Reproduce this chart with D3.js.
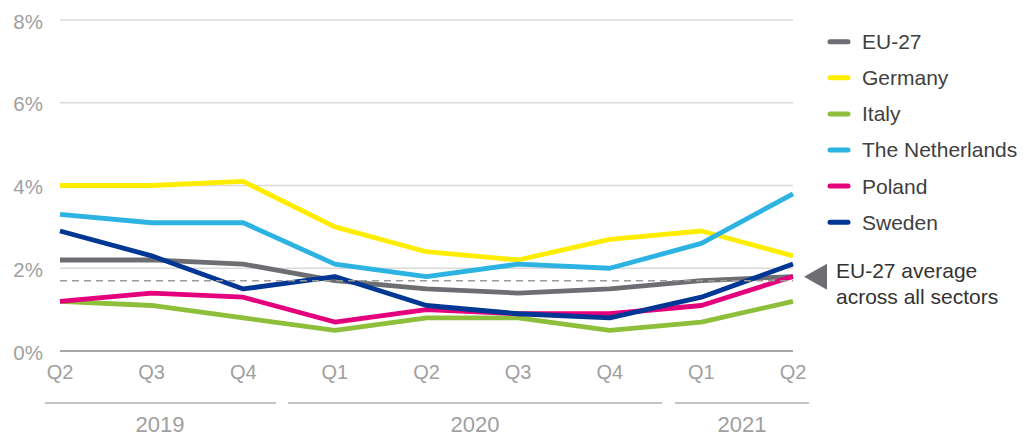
<!DOCTYPE html>
<html><head><meta charset="utf-8">
<script src="https://cdn.jsdelivr.net/npm/d3@7"></script>
<style>body{margin:0;background:#fff}svg{display:block}text{font-family:"Liberation Sans",Arial,sans-serif}</style>
</head><body><svg id="c" width="1032" height="439"></svg>
<script>
const quarters = ["Q2","Q3","Q4","Q1","Q2","Q3","Q4","Q1","Q2"];
const yearLabels = ["2019","2020","2021"];
const yTicks = [0,2,4,6,8];
const seriesNames = ["EU-27","Germany","Italy","The Netherlands","Poland","Sweden"];
const seriesColors = ["#6d6e71","#ffed00","#8dbf3b","#2cb3e2","#e4007c","#003795"];
const eu27 = [2.2,2.2,2.1,1.7,1.5,1.4,1.5,1.7,1.8];
const germany = [4.0,4.0,4.1,3.0,2.4,2.2,2.7,2.9,2.3];
const italy = [1.2,1.1,0.8,0.5,0.8,0.8,0.5,0.7,1.2];
const netherlands = [3.3,3.1,3.1,2.1,1.8,2.1,2.0,2.6,3.8];
const poland = [1.2,1.4,1.3,0.7,1.0,0.9,0.9,1.1,1.8];
const sweden = [2.9,2.3,1.5,1.8,1.1,0.9,0.8,1.3,2.1];
const avgAllSectors = 1.7;
const seriesValues = [eu27,germany,italy,netherlands,poland,sweden];

const svg = d3.select("#c");
const x = d3.scalePoint().domain(d3.range(quarters.length)).range([60,793]);
const y = d3.scaleLinear().domain([0,8]).range([351,20]);

// gridlines
svg.append("g").selectAll("line").data(yTicks.filter(d=>d>0)).join("line")
  .attr("x1",60).attr("x2",793).attr("y1",d=>y(d)).attr("y2",d=>y(d))
  .attr("stroke","#d9d9d9").attr("stroke-width",1.5);
svg.append("line").attr("x1",60).attr("x2",793).attr("y1",y(0)).attr("y2",y(0))
  .attr("stroke","#a6a6a6").attr("stroke-width",2);

// y labels
svg.append("g").selectAll("text").data(yTicks).join("text")
  .attr("x",43).attr("y",d=>y(d)+8.5).attr("text-anchor","end")
  .attr("font-size",20.5).attr("fill","#a0a0a0").text(d=>d+"%");

// quarter labels
svg.append("g").selectAll("text").data(quarters).join("text")
  .attr("x",(d,i)=>x(i)).attr("y",379).attr("text-anchor","middle")
  .attr("font-size",20).attr("fill","#a0a0a0").text(d=>d);

// year lines and labels
const yearBounds = [[45,276],[288,662],[675,809]];
const yearCenters = [160,475,742];
yearLabels.forEach((lab,i)=>{
  const [a,b] = yearBounds[i];
  svg.append("line").attr("x1",a).attr("x2",b).attr("y1",403).attr("y2",403)
    .attr("stroke","#b0b0b0").attr("stroke-width",1.5);
  svg.append("text").attr("x",yearCenters[i]).attr("y",432).attr("text-anchor","middle")
    .attr("font-size",22).attr("fill","#a0a0a0").text(lab);
});

// lines
const line = d3.line().x((d,i)=>x(i)).y(d=>y(d));
seriesValues.forEach((vals,i)=>{
  svg.append("path").datum(vals).attr("d",line).attr("fill","none")
    .attr("stroke",seriesColors[i]).attr("stroke-width",4.8)
    .attr("stroke-linejoin","round").attr("stroke-linecap","butt");
});

// dashed average
svg.append("line").attr("x1",60).attr("x2",793).attr("y1",y(avgAllSectors)).attr("y2",y(avgAllSectors))
  .attr("stroke","#9a9a9a").attr("stroke-width",1.5).attr("stroke-dasharray","7,5");

// legend
const lg = svg.append("g").selectAll("g").data(seriesNames).join("g")
  .attr("transform",(d,i)=>`translate(0,${41.7+i*36.1})`);
lg.append("line").attr("x1",830).attr("x2",848).attr("y1",0).attr("y2",0)
  .attr("stroke",(d,i)=>seriesColors[i]).attr("stroke-width",5).attr("stroke-linecap","round");
lg.append("text").attr("x",862).attr("y",7.4).attr("font-size",21).attr("fill","#404040").text(d=>d);

// annotation
const ay = y(avgAllSectors)-4;
svg.append("path").attr("d",`M804,${ay}L827,${ay-13}L827,${ay+13}Z`).attr("fill","#6d6e71");
svg.append("text").attr("x",836).attr("y",277.5).attr("font-size",21).attr("fill","#333").text("EU-27 average");
svg.append("text").attr("x",836).attr("y",303.5).attr("font-size",21).attr("fill","#333").text("across all sectors");
</script></body></html>
